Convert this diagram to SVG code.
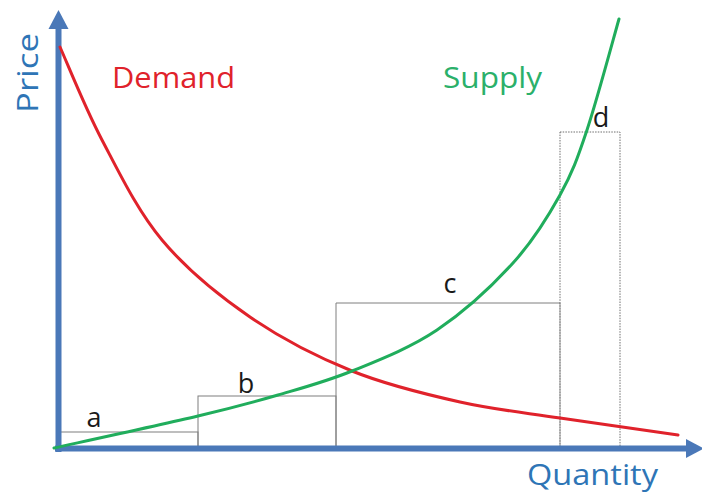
<svg xmlns="http://www.w3.org/2000/svg" width="702" height="493" viewBox="0 0 702 493">
<style>
.box{fill:none;stroke:#7f7f7f;stroke-width:1}
.dot{fill:none;stroke:#6f6f6f;stroke-width:1;stroke-dasharray:1.5 1.2}
.axis{stroke:#4a78b8;stroke-width:6;fill:none}
.head{fill:#4a78b8}
.lbl{font-family:"Open Sans","Liberation Sans",sans-serif;font-size:27px;fill:#1a1a1a;text-anchor:middle}
.ttl{font-family:"Open Sans","Liberation Sans",sans-serif;font-size:30px}
.curve{fill:none;stroke-width:3;stroke-linecap:round}
</style>
<rect width="702" height="493" fill="#ffffff"/>
<g id="bar-a"><rect class="box" x="60" y="432" width="138" height="16"/><text class="lbl" x="94" y="427">a</text></g>
<g id="bar-b"><rect class="box" x="198" y="396" width="138" height="52"/><text class="lbl" x="246" y="393">b</text></g>
<g id="bar-c"><path class="box" d="M336,448 V303 H560"/><path class="dot" d="M560,303 V448"/><text class="lbl" x="450" y="293">c</text></g>
<g id="bar-d"><rect class="dot" x="560" y="132" width="60" height="316"/><text class="lbl" x="601" y="127">d</text></g>
<g id="axes">
<path class="axis" d="M58.5,452 V26"/>
<polygon class="head" points="58.5,10 48.5,29 68.5,29"/>
<path class="axis" d="M55,448.5 H688"/>
<polygon class="head" points="704,448.5 686,439 686,458"/>
<text class="ttl" transform="translate(38,113) rotate(-90)" font-size="33" fill="#2e75b6" textLength="80" lengthAdjust="spacingAndGlyphs">Price</text>
<text class="ttl" x="527" y="485" font-size="29" fill="#2e75b6" textLength="131" lengthAdjust="spacingAndGlyphs">Quantity</text>
</g>
<g id="connectors">
<path id="demand" class="curve" stroke="#e0222b" d="M60,47 C67,62.5 85,107.8 102,140 C119,172.2 137.3,210.5 162,240 C186.7,269.5 218.3,295.2 250,317 C281.7,338.8 317,356.8 352,371 C387,385.2 425.3,394.2 460,402 C494.7,409.8 523.7,412.5 560,418 C596.3,423.5 658.3,432.2 678,435"/>
<path id="supply" class="curve" stroke="#20ad5c" d="M54,448 C78,442.7 160.7,424.8 198,416 C235.3,407.2 252.3,402.5 278,395 C303.7,387.5 325.5,381.8 352,371 C378.5,360.2 410.2,348 437,330 C463.8,312 492.5,285.5 513,263 C533.5,240.5 547.7,217.2 560,195 C572.3,172.8 577.2,159.3 587,130 C596.8,100.7 613.7,37.5 619,19"/>
</g>
<g id="demand-label"><text class="ttl" x="112" y="88" fill="#e0222b" textLength="123" lengthAdjust="spacingAndGlyphs">Demand</text></g>
<g id="supply-label"><text class="ttl" x="443" y="88" fill="#2bb06a" textLength="99" lengthAdjust="spacingAndGlyphs">Supply</text></g>
</svg>
